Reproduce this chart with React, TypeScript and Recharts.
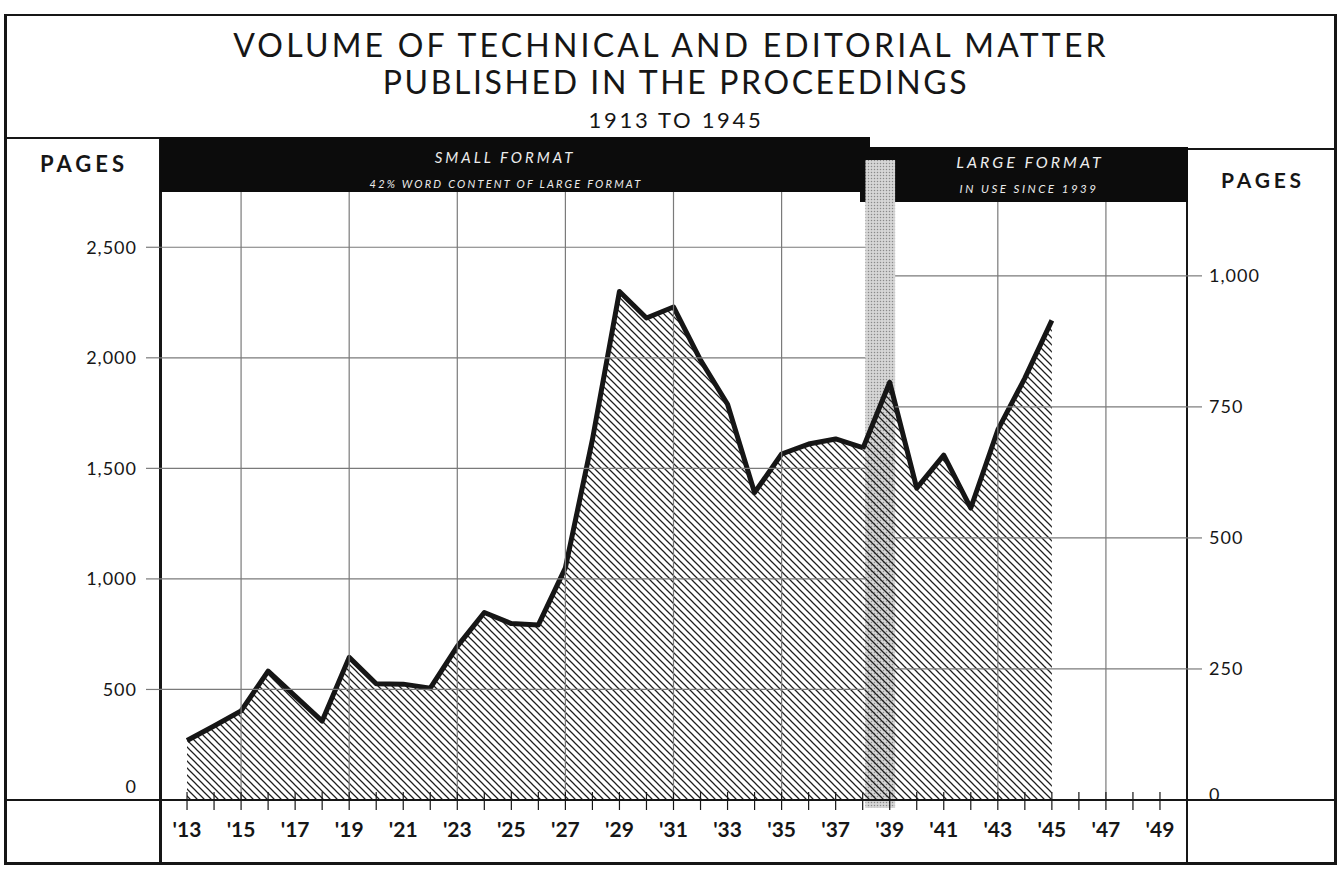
import React from 'react';
import { ComposedChart, Area, XAxis, YAxis, ReferenceLine, ReferenceArea } from 'recharts';

// ---- data ----
const years = [13, 14, 15, 16, 17, 18, 19, 20, 21, 22, 23, 24, 25, 26, 27, 28, 29, 30, 31, 32, 33, 34, 35, 36, 37, 38, 39, 40, 41, 42, 43, 44, 45];
// small format pages, 1913-1938 (left axis)
const smallFormatPages = [269, 335, 403, 583, 470, 357, 645, 526, 524, 506, 695, 848, 798, 792, 1050, 1630, 2300, 2180, 2230, 1990, 1790, 1390, 1565, 1610, 1633, 1594];
// large format pages, 1938-1945 (right axis)
const largeFormatYears = [38, 39, 40, 41, 42, 43, 44, 45];
const largeFormatPages = [670, 797, 595, 658, 557, 706, 805, 915];

const leftTicks = [0, 500, 1000, 1500, 2000, 2500];
const rightTicks = [0, 250, 500, 750, 1000];
const yearTicks = [13, 14, 15, 16, 17, 18, 19, 20, 21, 22, 23, 24, 25, 26, 27, 28, 29, 30, 31, 32, 33, 34, 35, 36, 37, 38, 39, 40, 41, 42, 43, 44, 45, 46, 47, 48, 49];
const labeledYears = [13, 15, 17, 19, 21, 23, 25, 27, 29, 31, 33, 35, 37, 39, 41, 43, 45, 47, 49];
const verticalGridYearsSmall = [15, 19, 23, 27, 31, 35];
const verticalGridYearsLarge = [43, 47];
const leftGridValues = [500, 1000, 1500, 2000, 2500];
const rightGridValues = [250, 500, 750, 1000];

const data = years.map((yr, i) => {
  const li = largeFormatYears.indexOf(yr);
  return {
    year: yr,
    small: i < smallFormatPages.length ? smallFormatPages[i] : null,
    large: li >= 0 ? largeFormatPages[li] : null,
  };
});

const FONT = "Lato, 'DejaVu Sans', sans-serif";
const INK = '#161616';
const GRID = '#7a7a7a';

const LeftTick = (props: any) => {
  const { x, y, payload } = props;
  const v = payload.value as number;
  return (
    <g>
      {v !== 0 && <line x1={x - 14} x2={x} y1={y} y2={y} stroke={GRID} strokeWidth={1.2} />}
      <text x={x - 23} y={v === 0 ? y - 13 : y} dy="0.36em" textAnchor="end" fontFamily={FONT} fontSize={18} letterSpacing={1} fill={INK}>
        {v.toLocaleString('en-US')}
      </text>
    </g>
  );
};

const RightTick = (props: any) => {
  const { x, y, payload } = props;
  const v = payload.value as number;
  return (
    <g>
      {v !== 0 && <line x1={x} x2={x + 15} y1={y} y2={y} stroke={GRID} strokeWidth={1.2} />}
      <text x={x + 22} y={v === 0 ? y - 5 : y} dy="0.36em" textAnchor="start" fontFamily={FONT} fontSize={18} letterSpacing={1} fill={INK}>
        {v.toLocaleString('en-US')}
      </text>
    </g>
  );
};

const YearTick = (props: any) => {
  const { x, y, payload } = props;
  const v = payload.value as number;
  return (
    <g>
      <line x1={x} x2={x} y1={y - 8} y2={y + 10} stroke={INK} strokeWidth={1.2} />
      {labeledYears.includes(v) && (
        <text x={x} y={y + 29} dy="0.36em" textAnchor="middle" fontFamily={FONT} fontWeight={700} fontSize={21} fill={INK}>
          {"'" + v}
        </text>
      )}
    </g>
  );
};

const abs = (s: React.CSSProperties): React.CSSProperties => ({ position: 'absolute', ...s });
const line = (x: number, y: number, w: number, h: number) => (
  <div style={abs({ left: x, top: y, width: w, height: h, background: INK })} />
);

const centered = (text: string, cx: number, cy: number, style: React.CSSProperties) => (
  <div
    style={abs({
      left: cx - 600,
      top: cy,
      width: 1200,
      textAlign: 'center',
      transform: 'translateY(-50%)',
      whiteSpace: 'nowrap',
      fontFamily: FONT,
      lineHeight: 1,
      ...style,
    })}
  >
    {text}
  </div>
);

export default function App() {
  return (
    <div style={abs({ left: 0, top: 0, width: 1341, height: 874, background: '#fff', overflow: 'hidden' })}>
      {/* frame */}
      {line(4, 14, 1333, 2)}
      {line(4, 14, 3, 850)}
      {line(1334, 14, 3, 850)}
      {line(4, 862, 1333, 3)}
      {line(4, 137, 157, 2)}
      {line(1186, 148, 150, 2)}
      {line(159, 137, 3, 727)}
      {line(1186, 148, 2, 716)}
      {line(4, 799, 1333, 2)}

      {/* banners */}
      <div style={abs({ left: 160, top: 137, width: 710, height: 55, background: '#0c0c0c' })} />
      <div style={abs({ left: 860, top: 147, width: 328, height: 55, background: '#0c0c0c' })} />
      {centered('SMALL FORMAT', 505, 157, { color: '#ececec', fontSize: 15, fontStyle: 'italic', letterSpacing: 3 })}
      {centered('42% WORD CONTENT OF LARGE FORMAT', 506, 183, { color: '#ececec', fontSize: 11, fontStyle: 'italic', letterSpacing: 2.2 })}
      {centered('LARGE FORMAT', 1030, 162, { color: '#ececec', fontSize: 16, fontStyle: 'italic', letterSpacing: 3 })}
      {centered('IN USE SINCE 1939', 1029, 189, { color: '#ececec', fontSize: 11.5, fontStyle: 'italic', letterSpacing: 2.5 })}

      {/* titles */}
      {centered('VOLUME OF TECHNICAL AND EDITORIAL MATTER', 671, 45, { color: INK, fontSize: 32, letterSpacing: 3.2 })}
      {centered('PUBLISHED IN THE PROCEEDINGS', 676, 82, { color: INK, fontSize: 32, letterSpacing: 2.6 })}
      {centered('1913 TO 1945', 676, 120, { color: INK, fontSize: 22, letterSpacing: 2.7 })}
      {centered('PAGES', 84, 164, { color: INK, fontSize: 22, fontWeight: 700, letterSpacing: 4 })}
      {centered('PAGES', 1263, 179, { color: INK, fontSize: 21, fontWeight: 700, letterSpacing: 3.8 })}

      <div style={abs({ left: 0, top: 0 })}>
        <ComposedChart width={1341} height={874} data={data} margin={{ top: 192, right: 153, bottom: 73, left: 159 }}>
          <defs>
            <pattern id="hatch" patternUnits="userSpaceOnUse" width="7" height="7">
              <path d="M0,0 L7,7 M-2,5 L2,9 M5,-2 L9,2" stroke="#1e1e1e" strokeWidth={1.25} />
            </pattern>
            <pattern id="stipple" patternUnits="userSpaceOnUse" width="3" height="3">
              <rect width="3" height="3" fill="#d6d6d6" />
              <circle cx="1.5" cy="1.5" r="0.75" fill="#8a8a8a" />
            </pattern>
          </defs>
          <XAxis
            dataKey="year"
            type="number"
            domain={[12, 50]}
            ticks={yearTicks}
            interval={0}
            height={1}
            tickSize={0}
            tickMargin={0}
            tickLine={false}
            axisLine={{ stroke: INK, strokeWidth: 2 }}
            tick={<YearTick />}
          />
          <YAxis
            yAxisId="left"
            domain={[0, 2750]}
            ticks={leftTicks}
            interval={0}
            width={1}
            tickSize={0}
            tickMargin={0}
            tickLine={false}
            axisLine={false}
            tick={<LeftTick />}
          />
          <YAxis
            yAxisId="right"
            orientation="right"
            domain={[0, 1160]}
            ticks={rightTicks}
            interval={0}
            width={1}
            tickSize={0}
            tickMargin={0}
            tickLine={false}
            axisLine={false}
            tick={<RightTick />}
          />
          {verticalGridYearsSmall.map((yr) => (
            <ReferenceLine key={'v' + yr} yAxisId="left" x={yr} stroke={GRID} strokeWidth={1.2} />
          ))}
          {verticalGridYearsLarge.map((yr) => (
            <ReferenceLine key={'w' + yr} yAxisId="right" segment={[{ x: yr, y: 0 }, { x: yr, y: 1141 }]} stroke={GRID} strokeWidth={1.2} />
          ))}
          {leftGridValues.map((v) => (
            <ReferenceLine key={'l' + v} yAxisId="left" segment={[{ x: 12, y: v }, { x: 38.1, y: v }]} stroke={GRID} strokeWidth={1.2} />
          ))}
          {rightGridValues.map((v) => (
            <ReferenceLine key={'r' + v} yAxisId="right" segment={[{ x: 39.2, y: v }, { x: 50, y: v }]} stroke={GRID} strokeWidth={1.2} />
          ))}
          <ReferenceArea yAxisId="left" x1={38.1} x2={39.2} y1={-36} y2={2895} ifOverflow="visible" fill="url(#stipple)" fillOpacity={1} stroke="none" />
          <Area
            yAxisId="left"
            type="linear"
            dataKey="small"
            fill="url(#hatch)"
            fillOpacity={1}
            stroke={INK}
            strokeWidth={5}
            strokeLinejoin="round"
            dot={false}
            activeDot={false}
            isAnimationActive={false}
          />
          <Area
            yAxisId="right"
            type="linear"
            dataKey="large"
            fill="url(#hatch)"
            fillOpacity={1}
            stroke={INK}
            strokeWidth={5}
            strokeLinejoin="round"
            dot={false}
            activeDot={false}
            isAnimationActive={false}
          />
        </ComposedChart>
      </div>
    </div>
  );
}
